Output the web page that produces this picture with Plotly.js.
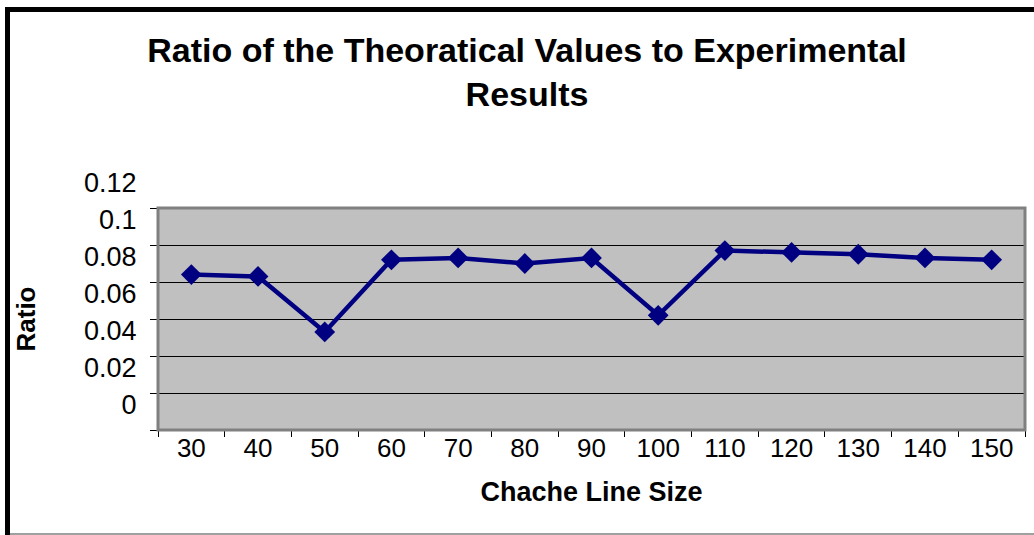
<!DOCTYPE html>
<html>
<head>
<meta charset="utf-8">
<script src="https://cdn.plot.ly/plotly-3.0.1.min.js"></script>
<style>
  html, body { margin: 0; padding: 0; background: #fff; }
  #wrap { position: relative; width: 1034px; height: 535px; overflow: hidden; }
  #chart { position: absolute; left: 0; top: 0; width: 1034px; height: 535px; }
  .frame { position: absolute; pointer-events: none; }
</style>
</head>
<body>
<div id="wrap">
  <div id="chart"></div>
  <div class="frame" style="left:5px; top:7px; width:5px; height:528px; background:#000;"></div>
  <div class="frame" style="left:5px; top:7px; width:1029px; height:5px; background:#000;"></div>
  <div class="frame" style="left:10px; top:533px; width:1024px; height:2px; background:#a0a0a0;"></div>
</div>
<script>
const categories = ["30", "40", "50", "60", "70", "80", "90", "100", "110", "120", "130", "140", "150"];
const ratioValues = [0.084, 0.083, 0.053, 0.092, 0.093, 0.090, 0.093, 0.062, 0.097, 0.096, 0.095, 0.093, 0.092];
const yTickValues = [0, 0.02, 0.04, 0.06, 0.08, 0.1, 0.12];
const yTickLabels = ["0", "0.02", "0.04", "0.06", "0.08", "0.1", "0.12"];

const FONT = "Liberation Sans, Arial, sans-serif";

const trace = {
  type: "scatter",
  mode: "lines+markers",
  x: categories,
  y: ratioValues,
  line: { color: "#000080", width: 4.5 },
  marker: { symbol: "diamond", size: 16, color: "#000080" },
  showlegend: false,
  hoverinfo: "x+y"
};

const layout = {
  width: 1034,
  height: 535,
  margin: { l: 158, r: 9, t: 208, b: 105 },
  paper_bgcolor: "#ffffff",
  plot_bgcolor: "#c0c0c0",
  title: {
    text: "Ratio of the Theoratical Values to Experimental<br>Results",
    font: { family: FONT, size: 34, color: "#000", weight: "bold" },
    x: 527 / 1034,
    xref: "container",
    xanchor: "center",
    y: 1 - 62 / 535,
    yref: "container",
    yanchor: "top"
  },
  xaxis: {
    type: "category",
    range: [-0.5, 12.5],
    tickson: "boundaries",
    ticks: "outside",
    ticklen: 6,
    tickcolor: "#000",
    tickwidth: 1,
    showgrid: false,
    zeroline: false,
    showline: false,
    tickfont: { family: FONT, size: 26, color: "#000" },
    title: {
      text: "Chache Line Size",
      font: { family: FONT, size: 27, color: "#000", weight: "bold" },
      standoff: 20
    },
    fixedrange: true
  },
  yaxis: {
    range: [0, 0.12],
    tickvals: yTickValues,
    ticktext: yTickLabels,
    ticks: "outside",
    ticklen: 7,
    tickcolor: "#000",
    tickwidth: 1,
    ticklabelshift: -25,
    ticklabelstandoff: 8,
    showgrid: true,
    gridcolor: "#000",
    gridwidth: 1,
    zeroline: false,
    showline: false,
    tickfont: { family: FONT, size: 27, color: "#000" },
    title: {
      text: "Ratio",
      font: { family: FONT, size: 26, color: "#000", weight: "bold" },
      standoff: 40
    },
    fixedrange: true
  },
  shapes: [
    {
      type: "rect", xref: "paper", yref: "paper",
      x0: 0, x1: 1, y0: 0, y1: 1,
      line: { color: "#808080", width: 3 },
      fillcolor: "rgba(0,0,0,0)",
      layer: "above"
    }
  ]
};

Plotly.newPlot("chart", [trace], layout, { displayModeBar: false, staticPlot: true });
</script>
</body>
</html>
